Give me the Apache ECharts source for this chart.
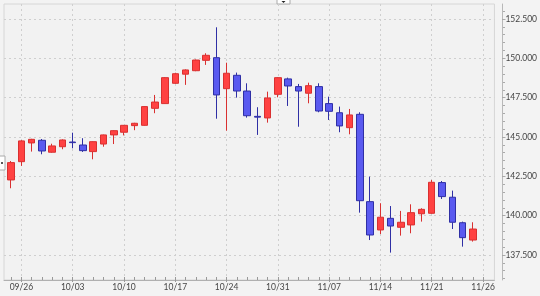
<!DOCTYPE html>
<html>
<head>
<meta charset="utf-8">
<script src="https://cdn.jsdelivr.net/npm/echarts@6/dist/echarts.min.js"></script>
<style>
html,body{margin:0;padding:0;background:#f3f3f3;}
#c{width:540px;height:296px;}
</style>
</head>
<body>
<div id="c"></div>
<script>
const dates = ["09/23","09/26","09/27","09/28","09/29","09/30","10/03","10/04","10/05","10/06","10/07",
"10/10","10/11","10/12","10/13","10/14","10/17","10/18","10/19","10/20","10/21",
"10/24","10/25","10/26","10/27","10/28","10/31","11/01","11/02","11/03","11/04",
"11/07","11/08","11/09","11/10","11/11","11/14","11/15","11/16","11/17","11/18",
"11/21","11/22","11/23","11/24","11/25","11/26"];
const opens  = [142.27,143.43,144.62,144.79,144.03,144.38,144.68,144.49,144.07,144.55,145.13,145.30,145.72,145.74,146.82,147.12,148.41,148.99,149.21,149.87,150.04,148.07,148.92,147.92,146.31,146.21,147.71,148.69,148.20,147.78,148.20,147.12,146.54,145.59,146.44,140.89,139.09,139.83,139.26,139.41,140.12,140.15,142.10,141.17,139.55,138.45];
const closes = [143.37,144.75,144.85,144.11,144.43,144.81,144.64,144.13,144.70,145.13,145.40,145.74,145.87,146.93,147.22,148.77,149.02,149.26,149.89,150.19,147.67,149.05,147.92,146.35,146.26,147.48,148.77,148.24,147.92,148.26,146.65,146.63,145.70,146.40,140.95,138.77,139.90,139.34,139.58,140.19,140.40,142.12,141.21,139.58,138.60,139.15];
const lows   = [141.74,143.16,144.07,143.90,144.00,144.22,144.28,144.05,143.58,144.38,144.55,145.10,145.43,145.72,146.51,147.10,148.38,148.31,149.18,149.58,146.16,145.40,147.50,146.23,145.13,145.91,147.52,146.97,145.65,147.14,146.57,146.08,145.30,145.17,140.19,138.45,138.83,137.65,138.73,138.88,139.62,140.12,141.06,139.15,138.03,138.35];
const highs  = [143.47,144.80,144.88,144.87,144.57,144.85,145.27,144.92,144.72,145.15,145.42,145.76,145.90,146.95,147.67,148.80,149.08,149.30,149.92,150.32,151.97,149.72,149.09,148.41,146.89,147.88,148.80,148.77,148.37,148.45,148.41,147.56,146.93,146.78,146.57,142.48,140.79,140.61,140.30,140.72,140.47,142.27,142.20,141.59,139.62,139.58];
const xLabelIdx = [1,6,11,16,21,26,31,36,41,46];
const xAllIdx = dates.map((d,i)=>i);
const yMajor = [137.5,140,142.5,145,147.5,150,152.5];
const yMinor = [136,136.5,137,137.5,138,138.5,139,139.5,140,140.5,141,141.5,142,142.5,143,143.5,144,144.5,145,145.5,146,146.5,147,147.5,148,148.5,149,149.5,150,150.5,151,151.5,152,152.5,153];

const FONT = 'Lato';
const chart = echarts.init(document.getElementById('c'), null, {renderer:'canvas'});
const candles = opens.map((o,i)=>[i,o,closes[i],lows[i],highs[i]]);
const XMIN = -0.70, XMAX = 47.11, YMIN = 135.91, YMAX = 153.45;
const G = {left:4,right:45,top:4,bottom:16};
chart.setOption({
  animation:false,
  backgroundColor:'#f3f3f3',
  grid:[
    Object.assign({show:true,backgroundColor:'#f2f2f2',borderColor:'#d6d6d6',borderWidth:1},G),
    Object.assign({show:false},G)
  ],
  xAxis:[
    {type:'value',gridIndex:0,min:XMIN,max:XMAX,position:'bottom',
     axisLine:{show:true,onZero:false,lineStyle:{color:'#b0b0b0'}},
     axisTick:{show:true,customValues:xLabelIdx,length:2,inside:false,lineStyle:{color:'#999'}},
     axisLabel:{customValues:xLabelIdx,formatter:v=>dates[Math.round(v)],fontFamily:FONT,fontSize:8.5,color:'#444',margin:3},
     splitLine:{show:true,lineStyle:{color:'#cfcfcf',type:[2,3]}}},
    {type:'value',gridIndex:0,min:XMIN,max:XMAX,position:'bottom',
     axisLine:{show:false,onZero:false},
     axisTick:{show:true,customValues:xAllIdx,length:3,inside:true,lineStyle:{color:'#999'}},
     axisLabel:{show:false},splitLine:{show:false}},
    {type:'value',gridIndex:1,min:XMIN,max:XMAX,show:false,axisLine:{onZero:false}}
  ],
  yAxis:[
    {type:'value',gridIndex:0,min:YMIN,max:YMAX,position:'right',offset:8,
     axisLine:{show:true,onZero:false,lineStyle:{color:'#b8b8b8'}},
     axisTick:{show:true,customValues:yMajor,length:3,lineStyle:{color:'#999'}},
     axisLabel:{customValues:yMajor,formatter:v=>v.toFixed(3),fontFamily:FONT,fontSize:8.5,color:'#444',margin:3},
     splitLine:{show:true,lineStyle:{color:'#cfcfcf',type:[2,3]}}},
    {type:'value',gridIndex:1,min:YMIN,max:YMAX,position:'right',offset:8,
     axisLine:{show:false,onZero:false},
     axisTick:{show:true,customValues:yMinor,length:2,lineStyle:{color:'#aaa'}},
     axisLabel:{show:false},splitLine:{show:false}}
  ],
  series:[{
    type:'candlestick',xAxisIndex:0,yAxisIndex:0,
    encode:{x:0,y:[1,2,3,4]},
    barWidth:7,
    data:candles,
    itemStyle:{color:'#ff4242',borderColor:'#d93030',color0:'#5a5af0',borderColor0:'#2f2fa5',borderWidth:1}
  }],
  graphic:[
    {type:'rect',shape:{x:277,y:-3,width:13,height:7},style:{fill:'#fff',stroke:'#aaa',lineWidth:1}},
    {type:'polygon',shape:{points:[[281.5,1],[285.5,1],[283.5,3]]},style:{fill:'#222'}},
    {type:'rect',shape:{x:-3,y:156,width:8,height:14},style:{fill:'#fff',stroke:'#aaa',lineWidth:1}},
    {type:'circle',shape:{cx:2,cy:163,r:1},style:{fill:'#222'}}
  ]
});
</script>
</body>
</html>
